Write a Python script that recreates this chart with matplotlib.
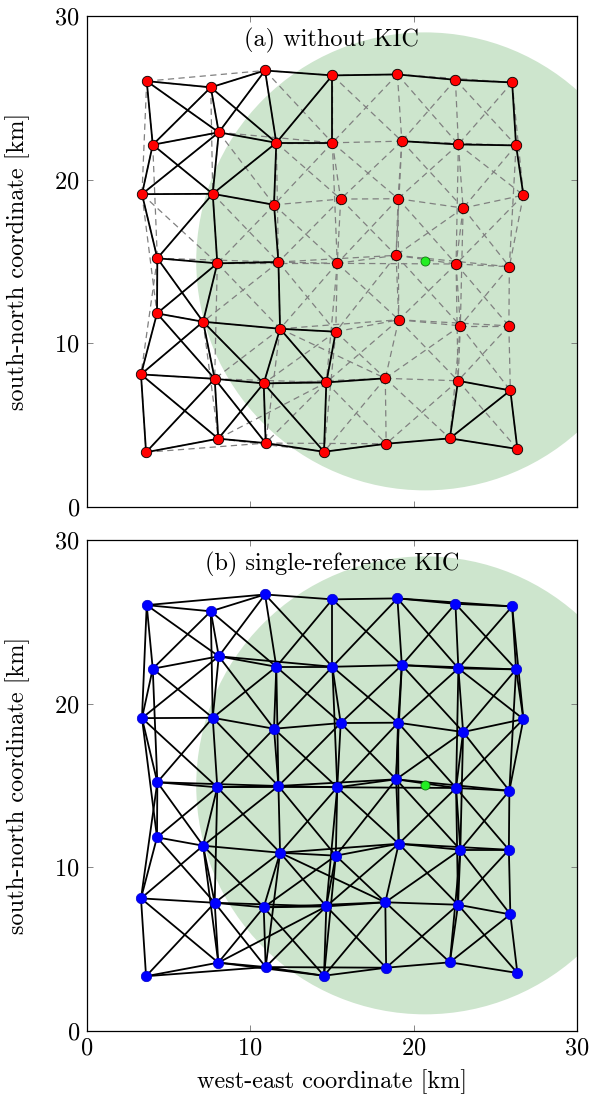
import numpy as np
import matplotlib.pyplot as plt
from matplotlib.patches import Circle

plt.rcParams['font.family'] = 'serif'
plt.rcParams['font.serif'] = ['cmr10', 'DejaVu Serif']
plt.rcParams['mathtext.fontset'] = 'cm'
plt.rcParams['axes.formatter.use_mathtext'] = True
plt.rcParams['font.size'] = 17.5

# node positions [km]; rows run north -> south, columns west -> east
x_km = [
    [3.67, 7.59, 10.91, 15.03, 19.01, 22.56, 26.03],
    [4.04, 8.08, 11.60, 15.03, 19.28, 22.74, 26.27],
    [3.38, 7.71, 11.46, 15.54, 19.05, 23.03, 26.72],
    [4.32, 7.99, 11.73, 15.33, 18.93, 22.60, 25.86],
    [4.30, 7.12, 11.83, 15.24, 19.09, 22.86, 25.83],
    [3.32, 7.83, 10.83, 14.66, 18.27, 22.72, 25.92],
    [3.63, 8.05, 10.95, 14.52, 18.32, 22.22, 26.35],
]
y_km = [
    [26.02, 25.64, 26.67, 26.37, 26.43, 26.10, 25.94],
    [22.13, 22.89, 22.25, 22.25, 22.35, 22.15, 22.09],
    [19.11, 19.13, 18.46, 18.81, 18.83, 18.26, 19.05],
    [15.19, 14.88, 14.96, 14.88, 15.37, 14.84, 14.67],
    [11.82, 11.31, 10.88, 10.70, 11.43, 11.06, 11.06],
    [8.09, 7.82, 7.54, 7.60, 7.85, 7.70, 7.11],
    [3.33, 4.16, 3.89, 3.36, 3.85, 4.18, 3.53],
]

# reference station and its coverage disc
ref_x, ref_y = 20.7, 15.0
ref_radius = 14.0

# links beyond the direct grid neighbours (row, col), 1-based
extra_links = [
    ((1, 1), (1, 3)), ((1, 5), (1, 7)), ((2, 2), (2, 4)), ((2, 5), (2, 7)),
    ((4, 1), (4, 3)), ((4, 2), (4, 4)), ((4, 3), (4, 5)), ((4, 4), (4, 6)),
    ((4, 5), (4, 7)), ((5, 3), (5, 5)), ((5, 5), (5, 7)), ((6, 2), (6, 4)),
    ((6, 3), (6, 5)), ((7, 1), (7, 3)), ((7, 2), (7, 4)), ((7, 3), (7, 5)),
    ((1, 1), (3, 1)), ((2, 1), (4, 1)), ((3, 1), (5, 1)), ((4, 1), (6, 1)),
    ((1, 2), (3, 2)), ((4, 2), (6, 2)), ((5, 2), (7, 2)), ((2, 3), (4, 3)),
    ((5, 3), (7, 3)), ((2, 4), (4, 4)), ((4, 4), (6, 4)), ((5, 4), (7, 4)),
    ((2, 5), (4, 5)), ((3, 5), (5, 5)), ((2, 6), (4, 6)), ((3, 6), (5, 6)),
    ((4, 6), (6, 6)), ((5, 6), (7, 6)), ((1, 7), (3, 7)), ((2, 7), (4, 7)),
    ((5, 3), (6, 5)), ((7, 2), (6, 4)),
]

# links that survive without KIC (panel a)
solid_links = [
    ((1, 1), (1, 2)), ((1, 2), (1, 3)), ((1, 3), (1, 4)), ((1, 4), (1, 5)),
    ((1, 5), (1, 6)), ((1, 6), (1, 7)), ((1, 7), (2, 7)), ((2, 7), (3, 7)),
    ((2, 5), (2, 6)), ((2, 6), (2, 7)),
    ((1, 1), (2, 1)), ((1, 1), (2, 2)), ((1, 2), (2, 1)), ((1, 2), (2, 2)),
    ((1, 2), (2, 3)), ((1, 3), (2, 2)), ((1, 3), (2, 3)), ((1, 4), (2, 3)),
    ((1, 4), (2, 4)), ((2, 1), (2, 2)), ((2, 2), (2, 3)), ((2, 3), (2, 4)),
    ((2, 1), (3, 1)), ((2, 1), (3, 2)), ((2, 2), (3, 1)), ((2, 2), (3, 2)),
    ((2, 3), (3, 2)), ((2, 3), (3, 3)), ((3, 1), (3, 2)), ((3, 2), (3, 3)),
    ((3, 1), (4, 1)), ((3, 2), (4, 1)), ((3, 2), (4, 2)), ((3, 3), (4, 3)),
    ((4, 1), (4, 2)), ((4, 2), (4, 3)),
    ((4, 1), (5, 1)), ((4, 1), (5, 2)), ((4, 2), (5, 1)), ((4, 2), (5, 2)),
    ((4, 3), (5, 3)), ((5, 1), (5, 2)), ((5, 2), (5, 3)), ((5, 3), (5, 4)),
    ((5, 1), (6, 1)), ((5, 1), (6, 2)), ((5, 2), (6, 1)), ((5, 2), (6, 2)),
    ((5, 2), (6, 3)), ((5, 3), (6, 3)), ((5, 3), (6, 4)), ((5, 4), (6, 4)),
    ((6, 1), (6, 2)), ((6, 2), (6, 3)), ((6, 3), (6, 4)), ((6, 4), (6, 5)),
    ((6, 1), (7, 1)), ((6, 1), (7, 2)), ((6, 2), (7, 1)), ((6, 2), (7, 2)),
    ((6, 2), (7, 3)), ((6, 3), (7, 2)), ((6, 3), (7, 3)), ((6, 3), (7, 4)),
    ((6, 4), (7, 4)), ((7, 1), (7, 2)), ((7, 2), (7, 3)), ((7, 3), (7, 4)),
    ((7, 4), (7, 5)), ((7, 5), (7, 6)), ((7, 6), (7, 7)),
    ((6, 6), (6, 7)), ((6, 6), (7, 6)), ((6, 7), (7, 6)), ((6, 7), (7, 7)),
]

X = np.array(x_km)
Y = np.array(y_km)
nr, nc = X.shape

# full measurement graph: grid neighbours, both cell diagonals, extra links
all_links = []
for r in range(1, nr + 1):
    for c in range(1, nc + 1):
        if c < nc:
            all_links.append(((r, c), (r, c + 1)))
        if r < nr:
            all_links.append(((r, c), (r + 1, c)))
        if r < nr and c < nc:
            all_links.append(((r, c), (r + 1, c + 1)))
            all_links.append(((r, c + 1), (r + 1, c)))
all_links += extra_links


def seg(link):
    (r1, c1), (r2, c2) = link
    return ([X[r1 - 1, c1 - 1], X[r2 - 1, c2 - 1]],
            [Y[r1 - 1, c1 - 1], Y[r2 - 1, c2 - 1]])


def setup(ax, title):
    ax.add_patch(Circle((ref_x, ref_y), ref_radius, color='#cde5cd', lw=0, zorder=0))
    ax.set_xlim(0, 30)
    ax.set_ylim(0, 30)
    ax.set_xticks([0, 10, 20, 30])
    ax.set_yticks([0, 10, 20, 30])
    ax.tick_params(direction='in', top=True, right=True, length=4, width=0.6,
                   color='0.45', labelsize=17.5, pad=5)
    ax.set_ylabel('south-north coordinate [km]')
    ax.yaxis.set_label_coords(-0.115, 0.5)
    ax.text(0.5, 0.975, title, transform=ax.transAxes, ha='center', va='top',
            fontsize=17.5)
    for s in ax.spines.values():
        s.set_linewidth(0.9)


fig = plt.figure(figsize=(5.92, 10.98), dpi=100)
ax1 = fig.add_axes([0.1465, 0.5385, 0.8282, 0.4469])
ax2 = fig.add_axes([0.1465, 0.0613, 0.8282, 0.4469])

# (a) without KIC
setup(ax1, '(a) without KIC')
for link in all_links:
    xs, ys = seg(link)
    ax1.plot(xs, ys, color='0.5', lw=0.9, ls=(0, (5, 3.5)), zorder=1)
for link in solid_links:
    xs, ys = seg(link)
    ax1.plot(xs, ys, color='black', lw=1.3, zorder=2)
ax1.plot(X.ravel(), Y.ravel(), 'o', color='red', mec='black', mew=0.6, ms=7.5, zorder=3)
ax1.plot([ref_x], [ref_y], 'o', color='#22ee22', mec='#117711', mew=0.6, ms=6.5, zorder=4)
ax1.tick_params(labelbottom=False)

# (b) single-reference KIC
setup(ax2, '(b) single-reference KIC')
for link in all_links:
    xs, ys = seg(link)
    ax2.plot(xs, ys, color='black', lw=1.3, zorder=2)
ax2.plot(X.ravel(), Y.ravel(), 'o', color='blue', mec='#0000cc', mew=0.5, ms=7.5, zorder=3)
ax2.plot([ref_x], [ref_y], 'o', color='#22ee22', mec='#117711', mew=0.6, ms=6.5, zorder=4)
ax2.set_xlabel('west-east coordinate [km]')
ax2.xaxis.set_label_coords(0.5, -0.078)

plt.savefig('out.png', dpi=100)
